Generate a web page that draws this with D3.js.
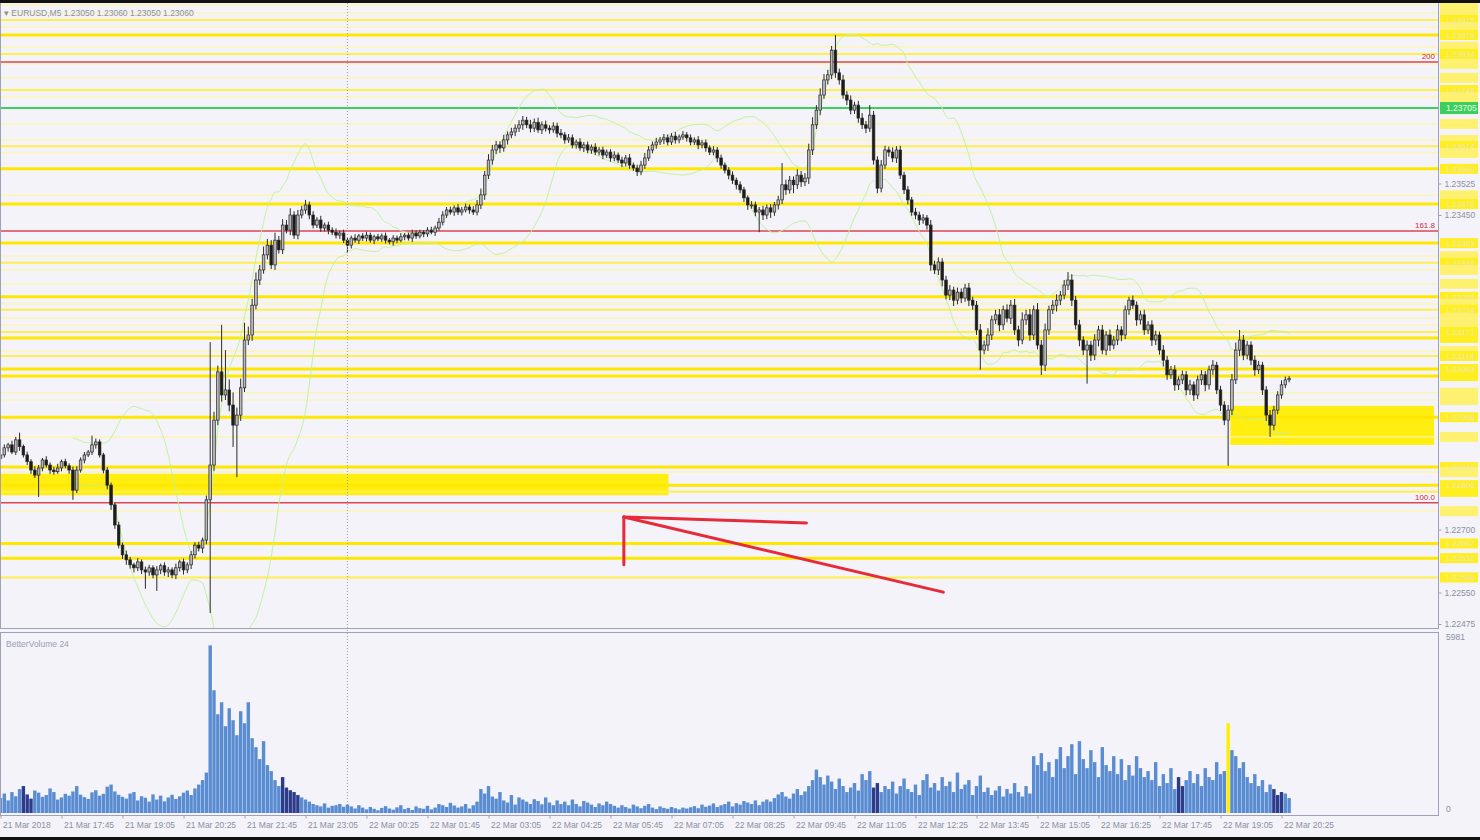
<!DOCTYPE html>
<html><head><meta charset="utf-8">
<script src="https://cdn.jsdelivr.net/npm/d3@7"></script>
<style>
html,body{margin:0;padding:0;background:#f3f3f9;}
svg{display:block;font-family:"Liberation Sans",Arial,sans-serif;}
</style></head><body>
<svg id="chart" width="1480" height="840"></svg>
<script>
// ---- EURUSD M5, 21 Mar 16:25 .. 22 Mar 20:35 ----
const chartTitle = "EURUSD,M5  1.23050 1.23060 1.23050 1.23060";
const volumeTitle = "BetterVolume 24";
const firstOpen = 1.22870;

const closes = [1.22878,1.22895,1.22902,1.22885,1.22914,1.22898,
1.22878,1.22862,1.22842,1.22830,1.22847,
1.22866,1.22854,1.22842,1.22838,1.22847,1.22862,1.22852,
1.22842,1.22794,1.22842,
1.22866,1.22878,1.22885,1.22902,1.22909,
1.22878,1.22842,1.22806,
1.22759,1.22711,1.22663,1.22640,
1.22628,1.22616,1.22609,1.22623,1.22604,
1.22599,1.22609,1.22592,1.22604,1.22614,1.22599,1.22604,
1.22592,1.22609,1.22623,1.22604,1.22616,1.22640,
1.22663,1.22656,1.22675,
1.22771,
1.22854,
1.22961,1.23076,1.23021,1.23033,1.22997,1.22949,1.22973,1.23038,1.23152,1.23164,1.23235,1.23295,
1.23319,1.23355,1.23378,1.23331,1.23390,1.23367,1.23426,1.23414,1.23450,1.23402,1.23450,1.23462,
1.23474,1.23450,1.23426,1.23438,1.23419,1.23426,1.23414,1.23409,1.23402,1.23407,1.23390,1.23378,
1.23395,1.23390,1.23400,1.23395,1.23402,1.23390,1.23398,1.23393,1.23400,1.23390,1.23386,1.23395,1.23390,1.23398,1.23402,1.23395,1.23407,1.23400,1.23409,1.23405,1.23414,1.23409,1.23419,
1.23433,1.23450,1.23462,1.23457,1.23467,1.23457,1.23462,1.23469,1.23462,1.23457,1.23474,
1.23498,1.23545,1.23581,1.23605,1.23617,1.23610,
1.23629,1.23641,1.23648,1.23657,1.23665,1.23676,
1.23665,1.23657,1.23671,1.23653,1.23665,1.23657,1.23653,1.23662,1.23645,
1.23641,1.23629,1.23634,1.23617,1.23624,1.23610,1.23617,1.23605,1.23612,1.23600,1.23605,
1.23593,1.23600,1.23586,1.23593,1.23581,1.23574,1.23586,1.23569,1.23562,1.23553,
1.23569,1.23586,1.23605,1.23617,1.23624,1.23629,
1.23634,1.23624,1.23638,1.23629,1.23636,1.23641,1.23634,1.23624,1.23629,1.23617,
1.23622,1.23610,1.23600,1.23605,1.23586,
1.23569,1.23557,1.23545,1.23533,1.23522,1.23510,1.23491,1.23474,
1.23474,1.23457,1.23462,1.23450,1.23467,1.23457,1.23474,1.23486,
1.23522,1.23510,1.23533,1.23522,1.23545,1.23529,1.23538,
1.23605,1.23665,1.23700,1.23736,
1.23772,1.23784,1.23843,
1.23789,
1.23772,1.23736,1.23724,1.23700,1.23712,1.23681,1.23665,
1.23657,1.23688,1.23581,1.23514,
1.23569,1.23605,1.23600,1.23586,1.23605,
1.23545,1.23510,1.23486,1.23457,
1.23450,1.23438,1.23443,1.23426,
1.23331,1.23319,1.23338,1.23295,
1.23259,1.23271,1.23247,1.23266,1.23252,1.23276,1.23247,1.23235,
1.23176,1.23128,1.23140,1.23164,
1.23200,1.23212,1.23188,1.23224,1.23204,1.23235,1.23176,
1.23152,1.23200,1.23212,1.23164,1.23224,1.23140,1.23092,
1.23176,1.23224,1.23235,1.23247,1.23259,1.23283,1.23295,
1.23247,1.23188,1.23152,1.23128,1.23140,1.23116,
1.23152,1.23176,1.23128,1.23164,1.23140,1.23152,1.23176,1.23164,
1.23224,1.23247,1.23235,1.23200,1.23212,
1.23176,1.23188,1.23152,1.23164,1.23128,1.23104,
1.23069,1.23081,1.23045,1.23057,1.23069,1.23033,
1.23045,1.23021,1.23057,1.23069,1.23045,1.23081,
1.23092,1.23033,1.22997,1.22961,1.22985,
1.23057,1.23128,1.23152,1.23116,1.23140,
1.23104,1.23081,1.23092,1.23033,1.22973,
1.22949,1.22985,1.23021,1.23045,1.23057,1.23060];

// upper / lower shadow length of each candle, in points (0.00001)
const wickUp = [6,8,5,10,7,17,5,8,6,9, 7,5,9,6,8,10,5,7,6,8, 9,6,7,5,22,8,6,5,7,6,
5,8,6,10,7,5,9,6,8,7, 6,9,5,8,7,6,10,5,8,6, 9,7,8,6,10,293,20,15,112,95,
25,30,18,22,41,20,15,18,12,20, 15,12,18,10,14,12,16,9,12,10, 12,8,9,7,10,6,8,7,9,6,
8,7,6,9,5,7,8,6,5,7, 6,8,5,7,6,9,5,6,8,7, 6,5,7,8,6,10,9,7,8,6,
9,7,8,6,9,12,15,10,14,12, 10,9,12,8,10,9,11,10,8,12, 9,11,8,10,7,9,8,10,7,9,
8,6,9,7,8,6,9,7,8,6, 7,9,6,8,7,9,6,8,10,12, 9,8,10,7,9,8,7,10,6,9,
7,8,6,9,7,8,6,9,7,8, 6,7,9,6,8,7,6,9,8,7, 10,8,9,7,10,52,12,10,9,14,
10,12,15,18,12,16,14,12,10,36, 10,12,9,11,8,10,12,9,24,10, 9,12,10,8,11,9,10,8,9,7,
10,8,9,7,12,10,11,9,10,12, 8,11,9,10,12,8,10,14,11,16, 10,12,14,10,13,12,15,10,18,12,
14,10,16,12,15,10,12,14,10,12, 19,14,10,12,9,11,10,14,10,12, 9,13,10,12,9,10,8,11,9,10,
12,9,11,10,8,12,10,9,11,8, 10,9,12,8,10,11,9,10,12,8, 10,9,12,14,18,24,12,10,9,11,
10,8,9,12,10,9,11,8,6];
const wickDown = [8,6,9,5,7,10,6,8,9,7, 52,8,6,9,7,5,8,6,9,23, 7,6,8,5,7,9,6,8,10,12,
9,8,10,12,9,11,8,10,40,9, 8,38,10,9,12,8,10,9,11,8, 10,9,8,12,10,270,14,12,16,12,
15,52,124,14,10,12,14,10,12,9, 11,10,12,9,10,8,12,9,10,8, 9,10,8,7,9,8,10,7,8,9,
7,19,8,6,9,7,8,6,9,5, 7,8,6,9,7,5,8,6,9,7, 6,8,7,5,9,6,8,7,6,9,
7,8,6,9,7,8,10,12,9,11, 10,12,9,11,8,10,9,12,8,10, 9,7,10,8,9,7,10,8,9,7,
8,9,7,10,8,9,7,8,10,7, 9,8,7,10,8,9,7,10,8,9, 7,8,9,7,10,8,7,9,8,7,
9,8,7,10,8,9,7,8,10,9, 8,10,9,11,8,10,12,9,10,48, 12,10,14,9,11,10,12,9,20,10,
12,10,14,12,10,12,9,11,10,12, 11,9,12,10,9,11,10,12,9,11, 12,10,9,11,10,12,9,10,11,9,
10,12,9,11,14,10,12,15,10,12, 14,10,12,9,14,11,12,47,10,14, 12,10,15,12,10,14,12,15,10,12,
14,12,10,23,14,12,10,15,12,10, 12,14,11,15,12,80,14,12,15,10, 12,14,10,12,15,10,12,9,14,11,
12,10,14,12,11,15,12,10,14,12, 10,13,12,14,10,12,15,11,12,10, 14,12,109,12,10,14,12,10,12,14,
10,12,14,28,12,10,9,8,6];

const volumes = [500,650,420,700,560,800,900,620,480,750,680,540,600,820,700,450,520,640,580,720,900,610,530,470,690,760,580,640,880,
950,720,610,540,480,650,700,420,560,510,380,620,450,580,390,520,610,470,560,680,750,600,820,950,1100,1350,
5600,
4100,3300,3700,2900,3500,3100,2600,3400,3000,3700,2500,2200,
1800,2400,1600,1400,1100,900,1200,850,760,700,600,520,
450,380,300,260,220,320,180,240,260,300,210,280,
220,150,260,180,120,200,140,90,170,230,150,110,190,260,130,170,100,220,160,140,240,120,180,300,260,200,340,250,180,220,300,150,260,380,
800,650,900,550,480,700,420,350,600,280,520,450,380,300,460,400,290,520,350,260,420,
300,380,260,450,300,220,400,350,280,200,320,260,380,300,240,180,260,200,150,280,220,160,240,300,180,130,220,170,140,200,160,120,180,150,
190,230,160,280,210,250,320,200,260,300,380,220,330,280,400,350,300,420,260,380,
450,380,500,620,700,550,480,650,800,600,720,900,1100,1450,1200,
950,1250,1050,800,1150,900,700,850,1000,750,1300,1100,1400,850,1000,700,900,800,1050,650,
900,1150,800,700,950,600,1100,1300,850,1000,750,1200,900,1050,700,1350,800,950,1100,600,900,1250,700,850,600,
750,900,550,800,650,1000,700,550,900,650,1900,1600,2000,1400,1700,1200,1800,2200,1500,1900,
2300,1300,2400,1800,1500,2100,1700,1200,2200,1600,1400,1900,1300,1800,1100,1600,1250,1900,1500,1200,
1400,1100,1700,900,1300,1000,1500,800,1200,900,1100,1400,1000,1300,900,1500,1200,1100,1700,1300,1400,3000,
2100,1900,1500,1700,1200,1000,1300,900,1100,700,950,800,600,700,650,500];
const darkVolumeBars = [6,7,8,74,75,76,77,78,229,230,309,310,334,335,336];
const highlightVolumeBars = [322];
const volumeMax = 5981;

const timeLabels = ["21 Mar 2018","21 Mar 17:45","21 Mar 19:05","21 Mar 20:25","21 Mar 21:45","21 Mar 23:05",
"22 Mar 00:25","22 Mar 01:45","22 Mar 03:05","22 Mar 04:25","22 Mar 05:45","22 Mar 07:05","22 Mar 08:25",
"22 Mar 09:45","22 Mar 11:05","22 Mar 12:25","22 Mar 13:45","22 Mar 15:05","22 Mar 16:25","22 Mar 17:45",
"22 Mar 19:05","22 Mar 20:25"];
const barsPerTimeLabel = 16;
const daySeparatorBar = 91;

const priceTicks = [1.22475,1.22550,1.22625,1.22700,1.22775,1.22850,1.22925,1.23000,1.23075,1.23150,
1.23225,1.23300,1.23375,1.23450,1.23525,1.23600,1.23675,1.23750,1.23825,1.23900];

// horizontal level lines: price and line weight (1 thin, 2 medium, 3 heavy)
const yellowPrices = [1.23951,1.23932,1.23915,1.23898,1.23879,1.23851,1.23834,1.23810,1.23777,1.23748,1.23731,
1.23667,1.23629,1.23614,1.23598,1.23560,1.23497,1.23476,1.23383,1.23352,1.23336,1.23319,1.23286,
1.23255,1.23238,1.23224,1.23204,1.23188,1.23171,1.23157,1.23126,1.23114,1.23083,1.23066,1.23026,1.23009,
1.22968,1.22921,1.22849,1.22837,1.22806,1.22790,1.22744,1.22667,1.22632,1.22586];
const yellowWeights = [1,1,2,1,3,1,2,1,1,2,1, 1,1,2,1,3,1,3,3,1,2,1,1, 3,1,2,1,1,2,3,1,2,3,3,1,1, 3,1,3,1,3,2,1,3,3,2];

const fibLabels = ["200","161.8","100.0"];
const fibPrices = [1.23815,1.23412,1.22764];
const greenLevel = 1.23705;

// rectangles: start bar, end bar, top price, bottom price
const zoneStart = [-5, 322.6];
const zoneEnd = [175.2, 376];
const zoneTop = [1.22833, 1.22995];
const zoneBottom = [1.22782, 1.22902];

// hand-drawn arrow: tip and the three strokes leaving it (bar, price)
const arrowTip = [163.5, 1.22730];
const arrowEnds = [[211.4, 1.22716],[247.3, 1.22551],[163.5, 1.22616]];

const bbPeriod = 20, bbDeviation = 2;

// ---------------------------------------------------------------
const W = 1480, H = 840, plotRight = 1438;
const priceBottom = 628, volTop = 632, volBottom = 815;
const svg = d3.select("#chart");
svg.append("rect").attr("width", W).attr("height", H).attr("fill", "#f3f3f9");

const x = d3.scaleLinear().domain([0, 336]).range([0.5, 1281.5]);
const y = d3.scaleLinear().domain([1.22475, 1.23450]).range([624, 215]);
const yv = d3.scaleLinear().domain([0, volumeMax]).range([813, 634]);

const defs = svg.append("defs");
defs.append("clipPath").attr("id", "pclip").append("rect")
  .attr("x", 0).attr("y", 0).attr("width", plotRight).attr("height", priceBottom);
defs.append("clipPath").attr("id", "vclip").append("rect")
  .attr("x", 0).attr("y", volTop).attr("width", plotRight).attr("height", volBottom - volTop);

const price = svg.append("g").attr("clip-path", "url(#pclip)");

// zones
price.selectAll("rect.zone").data(zoneStart).join("rect").attr("class", "zone")
  .attr("x", (d, i) => x(d)).attr("width", (d, i) => x(zoneEnd[i]) - x(d))
  .attr("y", (d, i) => y(zoneTop[i])).attr("height", (d, i) => y(zoneBottom[i]) - y(zoneTop[i]))
  .attr("fill", "#ffee10");

// yellow levels
const yellowColor = w => w === 3 ? "#ffe800" : (w === 2 ? "#ffef4a" : "#fff6a6");
price.selectAll("line.lvl").data(yellowPrices).join("line").attr("class", "lvl")
  .attr("x1", 0).attr("x2", plotRight)
  .attr("y1", d => y(d)).attr("y2", d => y(d))
  .attr("stroke", (d, i) => yellowColor(yellowWeights[i]))
  .attr("stroke-width", (d, i) => yellowWeights[i] === 3 ? 3 : (yellowWeights[i] === 2 ? 2 : 1.2));

// fibonacci levels
price.selectAll("line.fib").data(fibPrices).join("line").attr("class", "fib")
  .attr("x1", 0).attr("x2", plotRight)
  .attr("y1", d => y(d)).attr("y2", d => y(d))
  .attr("stroke", "#dc4650").attr("stroke-width", 1.5);
price.selectAll("text.fib").data(fibPrices).join("text").attr("class", "fib")
  .attr("x", plotRight - 3).attr("y", d => y(d) - 3).attr("text-anchor", "end")
  .attr("font-size", 8).attr("fill", "#d02840").text((d, i) => fibLabels[i]);

// green level
price.append("line").attr("x1", 0).attr("x2", plotRight)
  .attr("y1", y(greenLevel)).attr("y2", y(greenLevel))
  .attr("stroke", "#3ccf5c").attr("stroke-width", 2);

// Bollinger bands
const bands = closes.map((c, i) => {
  if (i < bbPeriod - 1) return null;
  const win = closes.slice(i - bbPeriod + 1, i + 1);
  const m = d3.mean(win);
  const sd = Math.sqrt(d3.mean(win, v => (v - m) * (v - m)));
  return {i, mid: m, up: m + bbDeviation * sd, lo: m - bbDeviation * sd};
}).filter(d => d);
["up", "lo"].forEach(k => {
  price.append("path").datum(bands)
    .attr("d", d3.line().x(d => x(d.i)).y(d => y(d[k])).curve(d3.curveMonotoneX))
    .attr("fill", "none").attr("stroke", "#c4f29a").attr("stroke-width", 1);
});

// day separator
svg.append("line").attr("x1", x(daySeparatorBar)).attr("x2", x(daySeparatorBar))
  .attr("y1", 0).attr("y2", volBottom)
  .attr("stroke", "#9c9cae").attr("stroke-dasharray", "1,2");

// candles
const candles = closes.map((c, i) => {
  const o = i === 0 ? firstOpen : closes[i - 1];
  return {i, o, c, h: Math.max(o, c) + wickUp[i] * 1e-5, l: Math.min(o, c) - wickDown[i] * 1e-5};
});
const cg = price.append("g");
cg.selectAll("line").data(candles).join("line")
  .attr("x1", d => x(d.i)).attr("x2", d => x(d.i))
  .attr("y1", d => y(d.h)).attr("y2", d => y(d.l))
  .attr("stroke", "#2a2a2a").attr("stroke-width", 1);
cg.selectAll("rect").data(candles).join("rect")
  .attr("x", d => x(d.i) - 1.3).attr("width", 2.6)
  .attr("y", d => y(Math.max(d.o, d.c)))
  .attr("height", d => Math.max(1, Math.abs(y(d.o) - y(d.c))))
  .attr("fill", d => d.c >= d.o ? "#b8b8be" : "#1c1c1c")
  .attr("stroke", "#262626").attr("stroke-width", 0.7);

// arrow strokes
price.selectAll("line.arrow").data(arrowEnds).join("line").attr("class", "arrow")
  .attr("x1", x(arrowTip[0])).attr("y1", y(arrowTip[1]))
  .attr("x2", d => x(d[0])).attr("y2", d => y(d[1]))
  .attr("stroke", "#e62a3a").attr("stroke-width", 3).attr("stroke-linecap", "round");

// title
svg.append("text").attr("x", 4).attr("y", 16).attr("font-size", 8.5).attr("fill", "#8a8ea0")
  .text("▾ " + chartTitle);

// volume panel
const vg = svg.append("g").attr("clip-path", "url(#vclip)");
vg.selectAll("rect").data(volumes).join("rect")
  .attr("x", (d, i) => x(i) - 1.7).attr("width", 3.4)
  .attr("y", d => yv(d)).attr("height", d => yv(0) - yv(d))
  .attr("fill", (d, i) => highlightVolumeBars.includes(i) ? "#ffee00"
        : (darkVolumeBars.includes(i) ? "#2c3b8a" : "#5a8cd2"));
svg.append("text").attr("x", 6).attr("y", 647).attr("font-size", 8.5).attr("fill", "#9a9eb0").text(volumeTitle);

// panel frames
svg.append("rect").attr("x", 0.5).attr("y", 0.5).attr("width", plotRight).attr("height", priceBottom)
  .attr("fill", "none").attr("stroke", "#9ea2b4");
svg.append("rect").attr("x", 0.5).attr("y", volTop + 0.5).attr("width", plotRight).attr("height", volBottom - volTop)
  .attr("fill", "none").attr("stroke", "#9ea2b4");

// price tags of the levels cover the axis; an axis label hidden under a tag is not drawn
const tagHalf = 5;
const tagY = yellowPrices.map(p => y(p)).concat([y(greenLevel)]);
const visibleTicks = priceTicks.filter(p => tagY.every(t => Math.abs(t - y(p)) > tagHalf + 2));
const yAxis = d3.axisRight(y).tickValues(visibleTicks).tickSize(3).tickFormat(d3.format(".5f"));
const ya = svg.append("g").attr("transform", `translate(${plotRight + 0.5},0)`).call(yAxis);
ya.select(".domain").remove();
ya.selectAll("line").attr("stroke", "#9ea2b4");
ya.selectAll("text").attr("font-size", 8.5).attr("fill", "#8c90a2").attr("font-family", "Liberation Sans");

const tags = svg.append("g");
tags.selectAll("rect").data(yellowPrices).join("rect")
  .attr("x", plotRight + 2).attr("width", 38).attr("y", d => y(d) - tagHalf).attr("height", tagHalf * 2)
  .attr("fill", (d, i) => yellowWeights[i] === 1 ? "#fff170" : "#ffee20");
// stacked tags only show the text of the first heavier one of a group
const tagText = [];
yellowPrices.filter((p, i) => yellowWeights[i] > 1).sort((a, b) => b - a).forEach(p => {
  const ty = y(p);
  if ((tagText.length === 0 || ty - y(tagText[tagText.length - 1]) >= 10) && Math.abs(ty - y(greenLevel)) > 11)
    tagText.push(p);
});
tags.append("g").selectAll("text").data(tagText).join("text")
  .attr("x", plotRight + 8).attr("y", d => y(d) + 3).attr("font-size", 8).attr("fill", "#ece8c0")
  .text(d => d3.format(".5f")(d));
tags.append("rect").attr("x", plotRight + 2).attr("width", 38).attr("y", y(greenLevel) - 6).attr("height", 12)
  .attr("fill", "#3ccf5c");
tags.append("text").attr("x", plotRight + 8).attr("y", y(greenLevel) + 3).attr("font-size", 8.5)
  .attr("fill", "#eaffea").text(d3.format(".5f")(greenLevel));

// volume axis
const vAxis = d3.axisRight(yv).tickValues([0, volumeMax]).tickSize(0).tickFormat(d3.format("d"));
const va = svg.append("g").attr("transform", `translate(${plotRight + 5},0)`).call(vAxis);
va.select(".domain").remove();
va.selectAll("text").attr("font-size", 8.5).attr("fill", "#8c90a2").attr("font-family", "Liberation Sans")
  .attr("dy", (d) => d === 0 ? "-0.2em" : "0.6em");

// time axis
const timeTicks = timeLabels.map((t, k) => k * barsPerTimeLabel);
const xAxis = d3.axisBottom(x).tickValues(timeTicks).tickSize(3).tickFormat((d, k) => timeLabels[k]);
const xa = svg.append("g").attr("transform", `translate(0,${volBottom + 0.5})`).call(xAxis);
xa.select(".domain").remove();
xa.selectAll("line").attr("stroke", "#9ea2b4");
xa.selectAll("text").attr("font-size", 8.5).attr("fill", "#8c90a2").attr("font-family", "Liberation Sans")
  .attr("text-anchor", "start").attr("dx", 2).attr("y", 6);

// screen edge
svg.append("rect").attr("x", 0).attr("y", 0).attr("width", W).attr("height", 3).attr("fill", "#111");
svg.append("rect").attr("x", 0).attr("y", 837).attr("width", W).attr("height", 3).attr("fill", "#111");
</script>
</body></html>
